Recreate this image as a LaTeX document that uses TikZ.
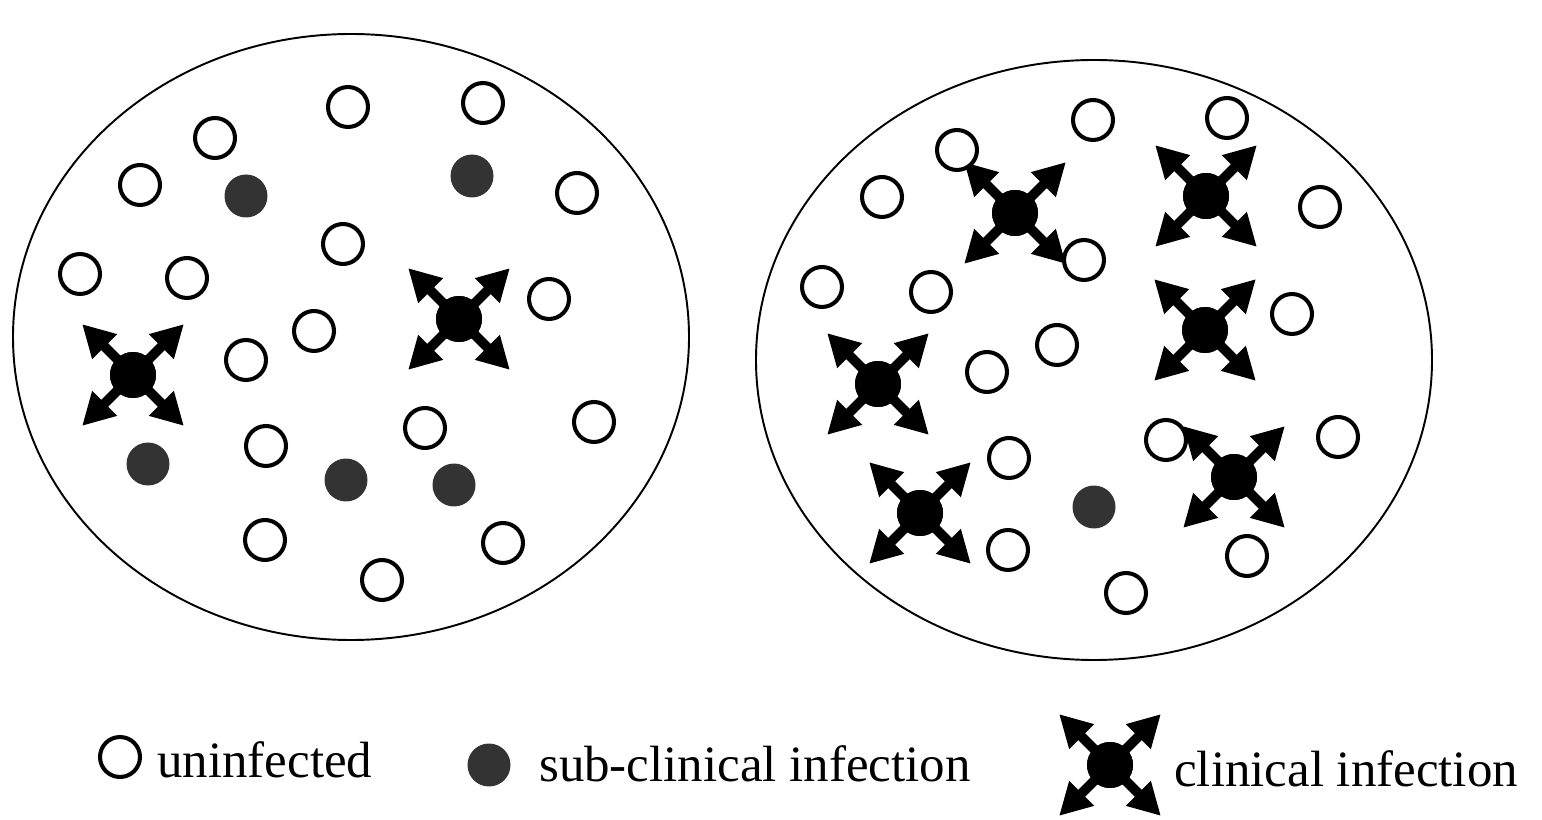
\documentclass[tikz,border=0pt]{standalone}
\usepackage{fontspec}
\setmainfont{Liberation Serif}
\usetikzlibrary{arrows.meta}
\tikzset{
  healthy/.style={circle,draw,line width=2.3pt,minimum size=0.8cm,inner sep=0pt,fill=white},
  subclin/.style={circle,fill=black!80,minimum size=0.86cm,inner sep=0pt},
  clin/.style={circle,fill=black,minimum size=0.92cm,inner sep=0pt},
  spread/.style={-{Triangle[length=0.64cm,width=0.66cm]},line width=5.5pt},
  legtext/.style={anchor=base west,font=\fontsize{29}{34}\selectfont},
}

\begin{document}
\begin{tikzpicture}[x=0.02cm,y=-0.02cm]
  \useasboundingbox (0,0) rectangle (1542,820);
  \def\len{72}
  % the two populations
  \draw[line width=1.1pt] (351,337) ellipse [x radius=338,y radius=303] coordinate (popA);
  \draw[line width=1.1pt] (1094,360) ellipse [x radius=338,y radius=300] coordinate (popB);
  % clinical cases, arrows first so the dots sit on top
  \foreach \i/\p in {1/{459,319},2/{133,375},3/{1015,213},4/{1206,196},5/{1205,330},6/{878,384},7/{1234,477},8/{920,513}} {
    \node[clin] (c\i) at (\p) {};
    \foreach \a in {45,135,225,315}
      \draw[spread] (c\i.center) -- ++(\a:\len);
    \node[clin] at (c\i) {};
  }
  % uninfected, left
  \foreach \i/\p in {1/{215,138},2/{348,107},3/{483,103},4/{140,185},5/{577,193},6/{343,244},
                     7/{80,274},8/{187,278},9/{549,299},10/{314,331},11/{246,360},12/{594,422},
                     13/{425,428},14/{266,446},15/{265,540},16/{503,543},17/{382,580}}
    \node[healthy] (uA\i) at (\p) {};
  % uninfected, right
  \foreach \i/\p in {1/{1093,120},2/{1227,118},3/{957,150},4/{882,197},5/{1320,207},6/{1084,260},
                     7/{822,287},8/{931,292},9/{1292,314},10/{1057,345},11/{987,372},12/{1166,440},
                     13/{1338,437},14/{1009,458},15/{1008,550},16/{1247,556},17/{1126,593}}
    \node[healthy] (uB\i) at (\p) {};
  % sub-clinical
  \foreach \i/\p in {1/{246,196},2/{472,176},3/{148,464},4/{346,480},5/{454,485},6/{1094,507}}
    \node[subclin] (s\i) at (\p) {};
  % legend
  \node[healthy] (legU) at (120,757) {};
  \node[legtext] (txtU) at (151,777) {uninfected};
  \node[subclin] (legS) at (489,765) {};
  \node[legtext] (txtS) at (533,781) {sub-clinical infection};
  \node[clin] (legC) at (1110,765) {};
  \foreach \a in {45,135,225,315}
    \draw[spread] (legC.center) -- ++(\a:\len);
  \node[clin] at (legC) {};
  \node[legtext] (txtC) at (1168,786) {clinical infection};
\end{tikzpicture}
\end{document}
